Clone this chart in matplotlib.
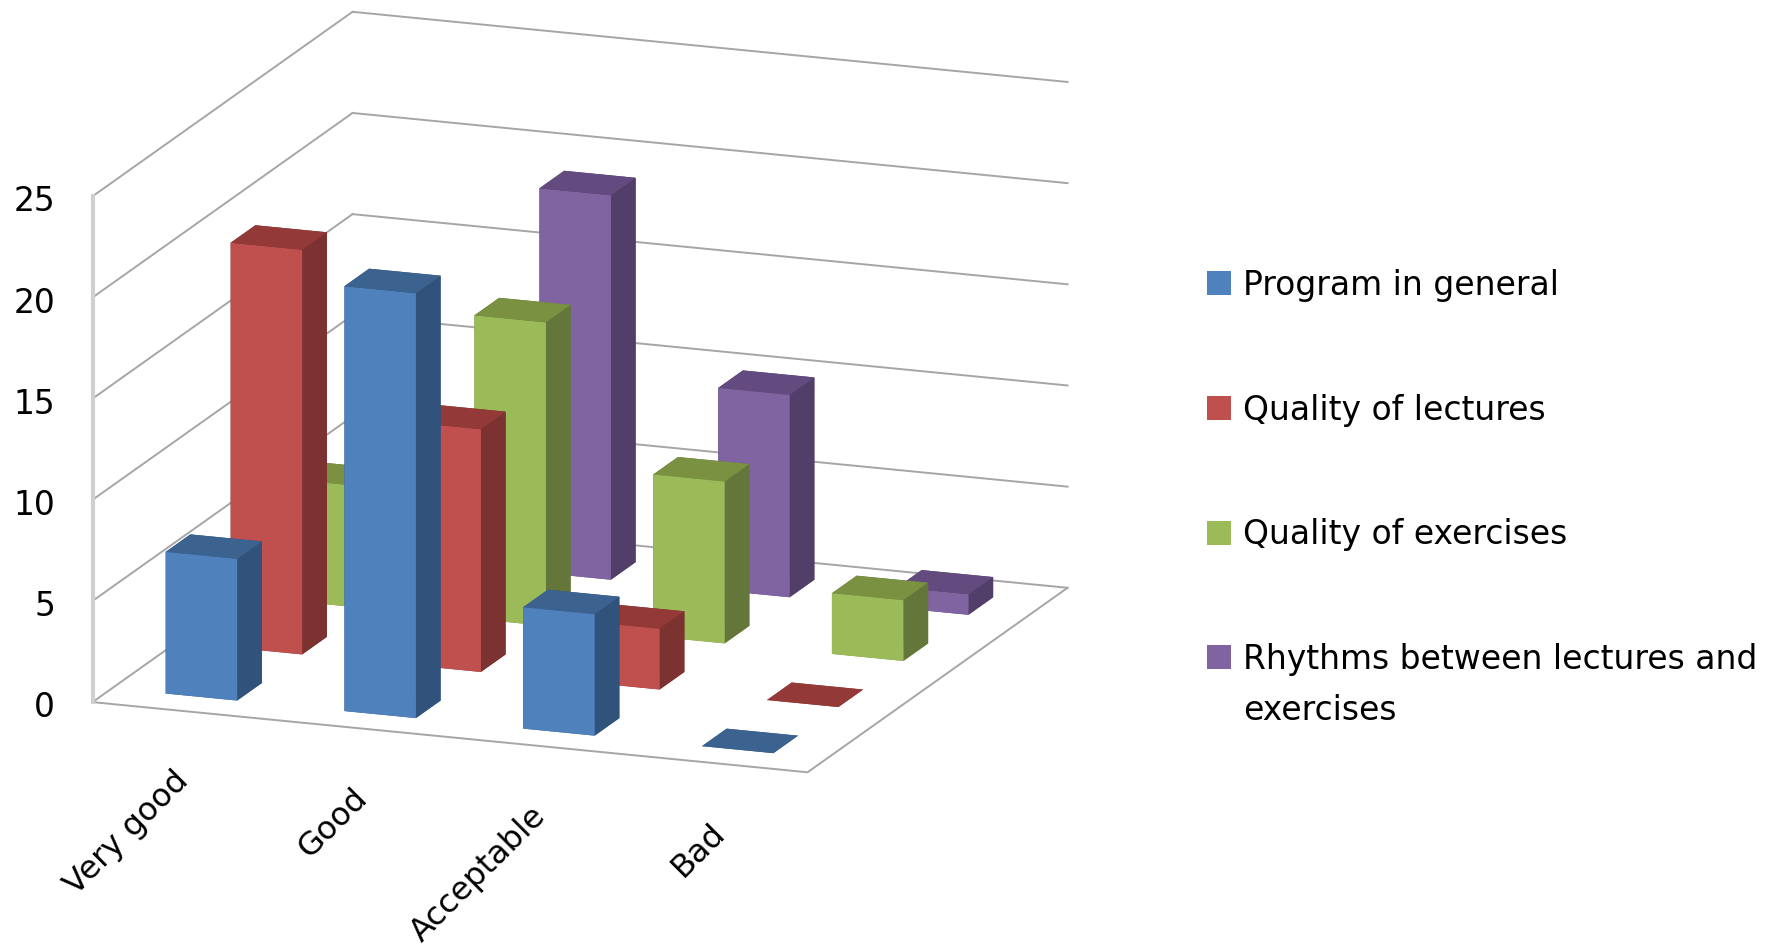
import numpy as np
import matplotlib
matplotlib.use('Agg')
import matplotlib.pyplot as plt
from matplotlib.patches import Patch
from mpl_toolkits.mplot3d import proj3d

# DATA
categories = ['Very good', 'Good', 'Acceptable', 'Bad']
series_names = ['Program in general', 'Quality of lectures', 'Quality of exercises',
                'Rhythms between lectures and\nexercises']
program = [7, 21, 6, 0]
lectures = [20, 12, 3, 0]
exercises = [6, 15, 8, 3]
rhythms = [4, 19, 10, 1]
z_ticks = [0, 5, 10, 15, 20, 25]

series_values = [program, lectures, exercises, rhythms]

# front, side, top colours of each series
front_colors = ['#4F81BD', '#C0504D', '#9BBB59', '#8064A2']
side_colors = ['#31527A', '#7B3230', '#64763A', '#523F69']
top_colors = ['#3C6290', '#933A38', '#7A9141', '#634B80']

GRID = '#A6A6A6'
FONT = 23.8

fig = plt.figure(figsize=(17.71, 9.47), dpi=100)
ax = fig.add_axes([-0.1797, 0.0725, 1, 1], projection='3d', computed_zorder=False)
ax.set_proj_type('ortho')
ax.view_init(elev=15.3, azim=-69.6)
ax.set_box_aspect((675, 660, 464), zoom=1.2187)
ax.set_axis_off()

# walls and floor (the square axes box is narrower than the chart, so no clipping)
for z in z_ticks:
    ax.plot([0, 0], [0, 4], [z, z], color=GRID, lw=1.4, zorder=1, clip_on=False)
    ax.plot([0, 4], [4, 4], [z, z], color=GRID, lw=1.4, zorder=1, clip_on=False)
ax.plot([0, 4, 4], [0, 0, 4], [0, 0, 0], color=GRID, lw=1.4, zorder=1, clip_on=False)
ax.plot([0, 0], [0, 0], [0, 25], color='#CFCFCF', lw=3, zorder=1, clip_on=False)

# bars, back to front
order = 2
for s in range(3, -1, -1):
    for c in range(4):
        # faces: bottom, top, front, back, left, right
        colors = [top_colors[s], top_colors[s], front_colors[s], side_colors[s],
                  side_colors[s], side_colors[s]]
        ax.bar3d(c + 0.3, s + 0.3, 0, 0.4, 0.38, series_values[s][c], color=colors,
                 shade=False, linewidth=0, zorder=order, clip_on=False)
        order += 1

ax.set_xlim(0, 4, view_margin=0)
ax.set_ylim(0, 4, view_margin=0)
ax.set_zlim(0, 25, view_margin=0)

M = ax.get_proj()
for z in z_ticks:
    px, py, _ = proj3d.proj_transform(0, 0, z, M)
    ax.annotate(str(z), (px, py), xytext=(-27, -4), textcoords='offset points',
                ha='right', va='center', fontsize=FONT, color='black',
                annotation_clip=False)
for c, name in enumerate(categories):
    px, py, _ = proj3d.proj_transform(c + 0.5, 0, 0, M)
    ax.annotate(name, (px, py), xytext=(1.5, -47), textcoords='offset points',
                ha='right', va='center', rotation=45, rotation_mode='anchor',
                fontsize=23, color='black', annotation_clip=False)

handles = [Patch(facecolor=col) for col in front_colors]
leg = fig.legend(handles, series_names, loc='upper left', bbox_to_anchor=(0.6817, 0.7163),
                 frameon=False, fontsize=FONT, handlelength=0.72, handleheight=0.72,
                 handletextpad=0.36, labelspacing=2.78, borderaxespad=0, borderpad=0)
for t in leg.get_texts():
    t.set_linespacing(1.66)
# square sits beside the first line of the two line entry
leg.legend_handles[3].set_y(21)

fig.savefig('out.png', dpi=100)
